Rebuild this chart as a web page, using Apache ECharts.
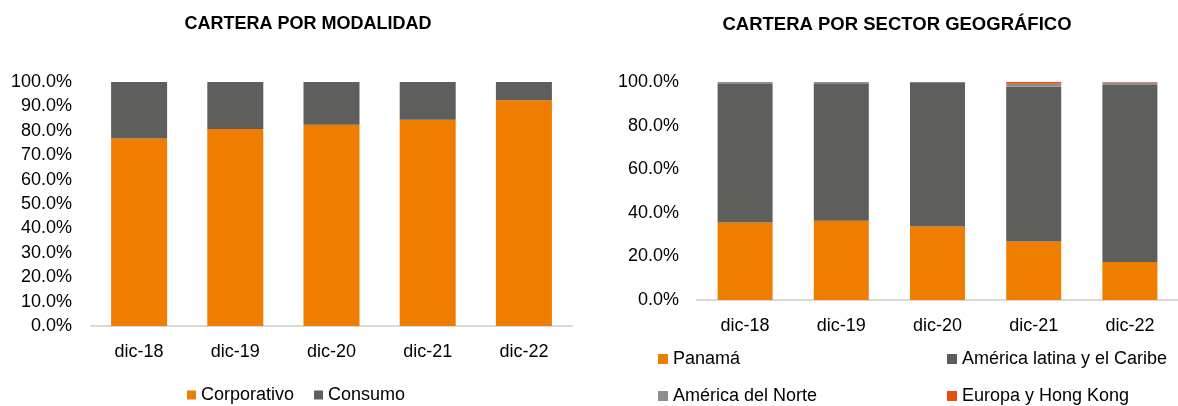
<!DOCTYPE html>
<html>
<head>
<meta charset="utf-8">
<script src="https://cdn.jsdelivr.net/npm/echarts@6/dist/echarts.min.js"></script>
<style>
  html, body { margin: 0; padding: 0; background: #fff; }
  #main { width: 1178px; height: 406px; }
</style>
</head>
<body>
<div id="main"></div>
<script>
var categories = ['dic-18', 'dic-19', 'dic-20', 'dic-21', 'dic-22'];

// cartera por modalidad (%)
var corporativo = [76.8, 80.7, 82.5, 84.5, 92.5];
var consumo = [23.2, 19.3, 17.5, 15.5, 7.5];

// cartera por sector geografico (%)
var panama = [35.5, 36.4, 33.7, 26.8, 17.4];
var latam = [63.6, 63.0, 66.2, 71.0, 81.2];
var norteamerica = [0.9, 0.6, 0.1, 1.4, 1.2];
var europa = [0.0, 0.0, 0.0, 0.8, 0.2];

var naranja = '#EE7D00';
var grisOscuro = '#5E5E5C';
var grisClaro = '#8E8E8E';
var rojo = '#E84E10';

var fuente = "'Liberation Sans', Arial, sans-serif";

var dom = document.getElementById('main');
var chart = echarts.init(dom);

function pct(v) { return v.toFixed(1) + '%'; }

function xAxisCfg(gi) {
    return {
        type: 'category',
        gridIndex: gi,
        data: categories,
        axisLine: { lineStyle: { color: '#d9d9d9', width: 2 } },
        axisTick: { show: false },
        axisLabel: { color: '#000', fontSize: 18, fontFamily: fuente, margin: 17 }
    };
}

function yAxisCfg(gi, step, margin) {
    return {
        type: 'value',
        gridIndex: gi,
        min: 0,
        max: 100,
        interval: step,
        axisLine: { show: false },
        axisTick: { show: false },
        splitLine: { show: false },
        axisLabel: { color: '#000', fontSize: 18, fontFamily: fuente, margin: margin, formatter: pct }
    };
}

function barra(name, data, color, gi, width) {
    return {
        name: name,
        type: 'bar',
        stack: 'g' + gi,
        xAxisIndex: gi,
        yAxisIndex: gi,
        barWidth: width,
        data: data,
        itemStyle: { color: color }
    };
}

var legendText = { color: '#000', fontSize: 18, fontFamily: fuente };

var option = {
    backgroundColor: '#fff',
    animation: false,
    title: [
        {
            text: 'CARTERA POR MODALIDAD',
            left: 303, top: 10, textAlign: 'center',
            textStyle: { fontSize: 18, fontWeight: 'bold', color: '#000', fontFamily: fuente }
        },
        {
            text: 'CARTERA POR SECTOR GEOGRÁFICO',
            left: 892, top: 10, textAlign: 'center',
            textStyle: { fontSize: 18.5, fontWeight: 'bold', color: '#000', fontFamily: fuente }
        }
    ],
    legend: [
        {
            data: ['Corporativo', 'Consumo'],
            left: 187, top: 386, padding: 0,
            icon: 'rect', itemWidth: 9, itemHeight: 9, itemGap: 20,
            textStyle: legendText
        },
        {
            data: ['Panamá', 'América del Norte'],
            orient: 'vertical',
            left: 658, top: 350, padding: 0,
            icon: 'rect', itemWidth: 10, itemHeight: 10, itemGap: 19,
            textStyle: legendText
        },
        {
            data: ['América latina y el Caribe', 'Europa y Hong Kong'],
            orient: 'vertical',
            left: 947, top: 350, padding: 0,
            icon: 'rect', itemWidth: 10, itemHeight: 10, itemGap: 19,
            textStyle: legendText
        }
    ],
    grid: [
        { left: 91, top: 82, width: 481, height: 244 },
        { left: 697, top: 82, width: 481, height: 218 }
    ],
    xAxis: [xAxisCfg(0), xAxisCfg(1)],
    yAxis: [yAxisCfg(0, 10, 19), yAxisCfg(1, 20, 18)],
    series: [
        barra('Corporativo', corporativo, naranja, 0, 56),
        barra('Consumo', consumo, grisOscuro, 0, 56),
        barra('Panamá', panama, naranja, 1, 55),
        barra('América latina y el Caribe', latam, grisOscuro, 1, 55),
        barra('América del Norte', norteamerica, grisClaro, 1, 55),
        barra('Europa y Hong Kong', europa, rojo, 1, 55)
    ]
};

chart.setOption(option, true);
</script>
</body>
</html>
